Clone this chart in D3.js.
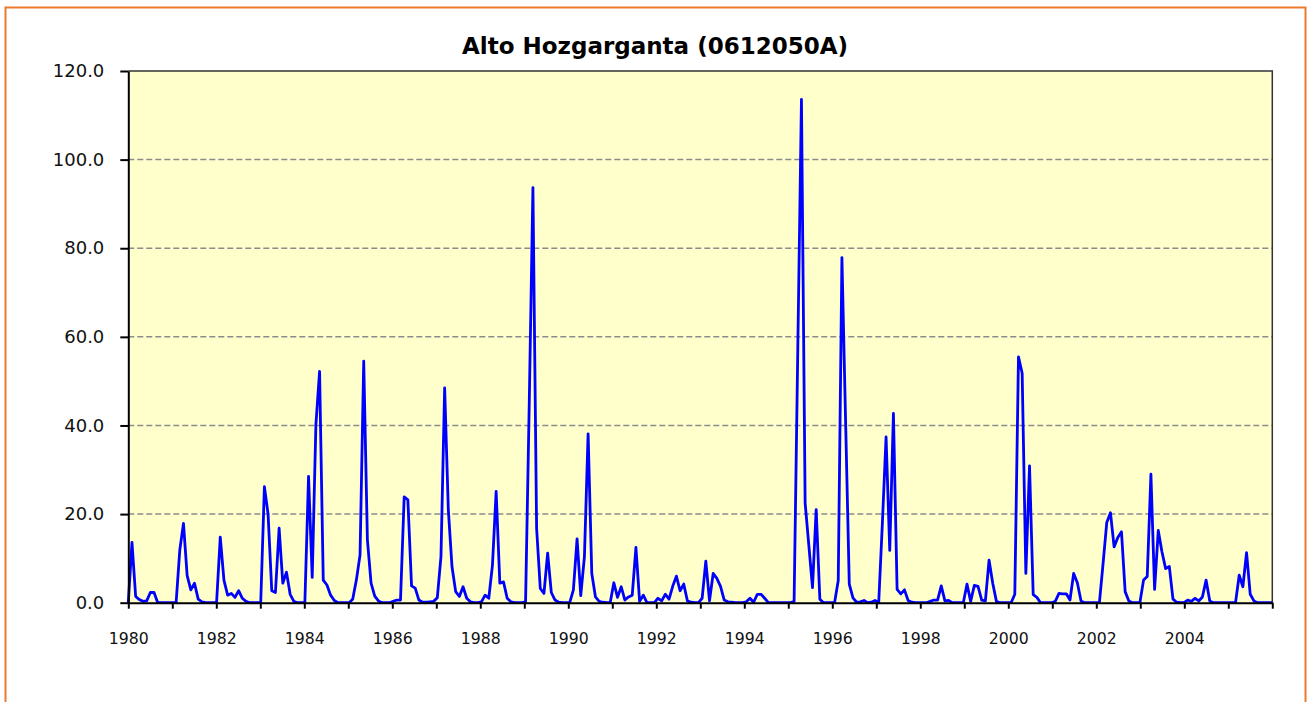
<!DOCTYPE html>
<html>
<head>
<meta charset="utf-8">
<script src="https://cdn.jsdelivr.net/npm/d3@7"></script>
<style>
  body { margin: 0; background: #fff; }
  svg { display: block; }
</style>
</head>
<body>
<div id="chart"></div>
<script>
var W = 1307, H = 702;

var title = 'Alto Hozgarganta (0612050A)';

// monthly values, one row per year (Jan..Dec)
var flow = [
  0, 13.6, 1.4, 0.7, 0.3, 0.4, 2.3, 2.3, 0, 0, 0, 0,            // 1980
  0, 0, 11.9, 17.9, 6.1, 2.9, 4.4, 0.8, 0.2, 0, 0, 0,           // 1981
  0, 14.8, 5.1, 1.7, 2.1, 1.2, 2.7, 1.0, 0.3, 0, 0, 0,          // 1982
  0, 26.2, 20.0, 2.7, 2.3, 16.8, 4.4, 6.9, 1.9, 0.3, 0, 0,      // 1983
  0, 28.5, 5.7, 40.2, 52.2, 5.1, 4.0, 1.7, 0.5, 0, 0, 0,        // 1984
  0, 0.8, 5.1, 10.8, 54.5, 14.2, 4.4, 1.5, 0.4, 0, 0, 0,        // 1985
  0.3, 0.6, 0.6, 23.9, 23.2, 3.8, 3.3, 0.6, 0.1, 0.1, 0.2, 0.3, // 1986
  1.1, 10.4, 48.5, 21.0, 8.1, 2.5, 1.4, 3.6, 1.0, 0.2, 0, 0,    // 1987
  0.2, 1.7, 1.0, 8.5, 25.1, 4.4, 4.7, 1.0, 0.2, 0, 0, 0,        // 1988
  0.2, 45.0, 93.7, 16.8, 3.2, 2.1, 11.2, 2.3, 0.6, 0.1, 0, 0,   // 1989
  0, 2.9, 14.4, 1.6, 10.4, 38.1, 6.6, 1.3, 0.3, 0.1, 0, 0,      // 1990
  4.5, 1.2, 3.6, 0.6, 1.3, 1.7, 12.5, 0.3, 1.7, 0, 0, 0,        // 1991
  1.0, 0.4, 1.9, 0.8, 3.7, 6.0, 2.7, 4.2, 0.4, 0.1, 0, 0,       // 1992
  1.0, 9.4, 0.4, 6.6, 5.5, 3.7, 0.6, 0.2, 0.1, 0, 0, 0,         // 1993
  0.2, 1.0, 0.1, 1.9, 1.9, 1.0, 0, 0, 0, 0, 0, 0,               // 1994
  0, 0.3, 57.0, 113.6, 22.5, 13.0, 3.4, 21.0, 0.8, 0, 0, 0,     // 1995
  0, 5.0, 77.9, 41.0, 4.2, 1.1, 0.1, 0.2, 0.5, 0, 0.1, 0.5,     // 1996
  0, 18.0, 37.4, 11.8, 42.7, 3.0, 2.0, 2.9, 0.5, 0.1, 0, 0,     // 1997
  0, 0, 0.3, 0.6, 0.6, 3.8, 0.4, 0.5, 0, 0, 0, 0,               // 1998
  4.2, 0.3, 3.9, 3.7, 0.6, 0.4, 9.6, 4.4, 0.3, 0, 0, 0,         // 1999
  0, 1.9, 55.5, 51.8, 6.6, 30.9, 1.8, 1.2, 0, 0, 0, 0,          // 2000
  0.3, 2.1, 2.0, 2.0, 0.6, 6.6, 4.5, 0.4, 0, 0, 0, 0,           // 2001
  0, 8.9, 18.1, 20.3, 12.6, 14.7, 16.0, 2.5, 0.4, 0, 0, 0,      // 2002
  5.1, 5.9, 29.0, 3.0, 16.3, 11.5, 7.7, 8.2, 0.8, 0.1, 0, 0,    // 2003
  0.6, 0.3, 1.0, 0.4, 1.3, 5.1, 0.4, 0, 0, 0, 0, 0,             // 2004
  0, 0, 6.2, 3.6, 11.3, 1.9, 0.4, 0, 0, 0, 0, 0                 // 2005
];

var yearTicks = d3.range(1980, 2007);   // one tick per year
var yearLabels = [1980, 1982, 1984, 1986, 1988, 1990, 1992, 1994, 1996, 1998, 2000, 2002, 2004];
var yTicks = [0, 20, 40, 60, 80, 100, 120];

var plot = { left: 128.3, right: 1272.3, top: 71, bottom: 602.7 };

var svg = d3.select('#chart')
    .append('svg')
    .attr('width', W)
    .attr('height', H);

// chart frame
svg.append('rect')
    .attr('x', 5.5)
    .attr('y', 7.5)
    .attr('width', 1300)
    .attr('height', 720)
    .attr('fill', '#fff')
    .attr('stroke', '#EC7A2C')
    .attr('stroke-width', 2);

var x = d3.scaleLinear()
    .domain([0, flow.length - 1])
    .range([plot.left, plot.right]);

var xYear = d3.scaleLinear()
    .domain([1980, 2006])
    .range([plot.left, plot.right]);

var y = d3.scaleLinear()
    .domain([0, 120])
    .range([plot.bottom, plot.top]);

svg.append('rect')
    .attr('x', plot.left)
    .attr('y', plot.top)
    .attr('width', plot.right - plot.left)
    .attr('height', plot.bottom - plot.top)
    .attr('fill', '#FFFFCC');

// dashed gridlines
svg.append('g')
    .selectAll('line')
    .data(yTicks.filter(function(d) { return d > 0 && d < 120; }))
    .enter().append('line')
    .attr('x1', plot.left)
    .attr('x2', plot.right)
    .attr('y1', function(d) { return y(d); })
    .attr('y2', function(d) { return y(d); })
    .attr('stroke', '#8c8c8c')
    .attr('stroke-width', 1.5)
    .attr('stroke-dasharray', '6,3');

// top and right border of the plot
svg.append('path')
    .attr('d', 'M' + plot.left + ',' + y(120) + 'H' + plot.right + 'V' + plot.bottom)
    .attr('fill', 'none')
    .attr('stroke', '#333')
    .attr('stroke-width', 1.5);

var line = d3.line()
    .x(function(d, i) { return x(i); })
    .y(function(d) { return y(d); });

svg.append('path')
    .datum(flow)
    .attr('d', line)
    .attr('fill', 'none')
    .attr('stroke', '#0000FF')
    .attr('stroke-width', 2.8)
    .attr('stroke-linejoin', 'round');

var xAxis = d3.axisBottom(xYear)
    .tickValues(yearTicks)
    .tickFormat(function(d) { return yearLabels.indexOf(d) >= 0 ? d : ''; })
    .tickSize(6)
    .tickPadding(24)
    .tickSizeOuter(0);

var gx = svg.append('g')
    .attr('transform', 'translate(0,' + plot.bottom + ')')
    .call(xAxis);
gx.select('.domain').attr('stroke', '#000').attr('stroke-width', 2);
gx.selectAll('line').attr('stroke', '#000').attr('stroke-width', 2);
gx.selectAll('text')
    .attr('fill', '#111')
    .style('font-family', '"DejaVu Sans", Verdana, sans-serif')
    .style('font-size', '15.7px');

var yAxis = d3.axisLeft(y)
    .tickValues(yTicks)
    .tickFormat(d3.format('.1f'))
    .tickSize(8)
    .tickPadding(16)
    .tickSizeOuter(0);

var gy = svg.append('g')
    .attr('transform', 'translate(' + plot.left + ',0)')
    .call(yAxis);
gy.select('.domain').attr('stroke', '#000').attr('stroke-width', 2);
gy.selectAll('line').attr('stroke', '#000').attr('stroke-width', 2);
gy.selectAll('text')
    .attr('fill', '#111')
    .style('font-family', '"DejaVu Sans", Verdana, sans-serif')
    .style('font-size', '18px');

svg.append('text')
    .attr('x', 655)
    .attr('y', 54)
    .attr('text-anchor', 'middle')
    .style('font-family', '"DejaVu Sans", Verdana, sans-serif')
    .style('font-weight', 'bold')
    .style('font-size', '23px')
    .attr('fill', '#000')
    .text(title);
</script>
</body>
</html>
